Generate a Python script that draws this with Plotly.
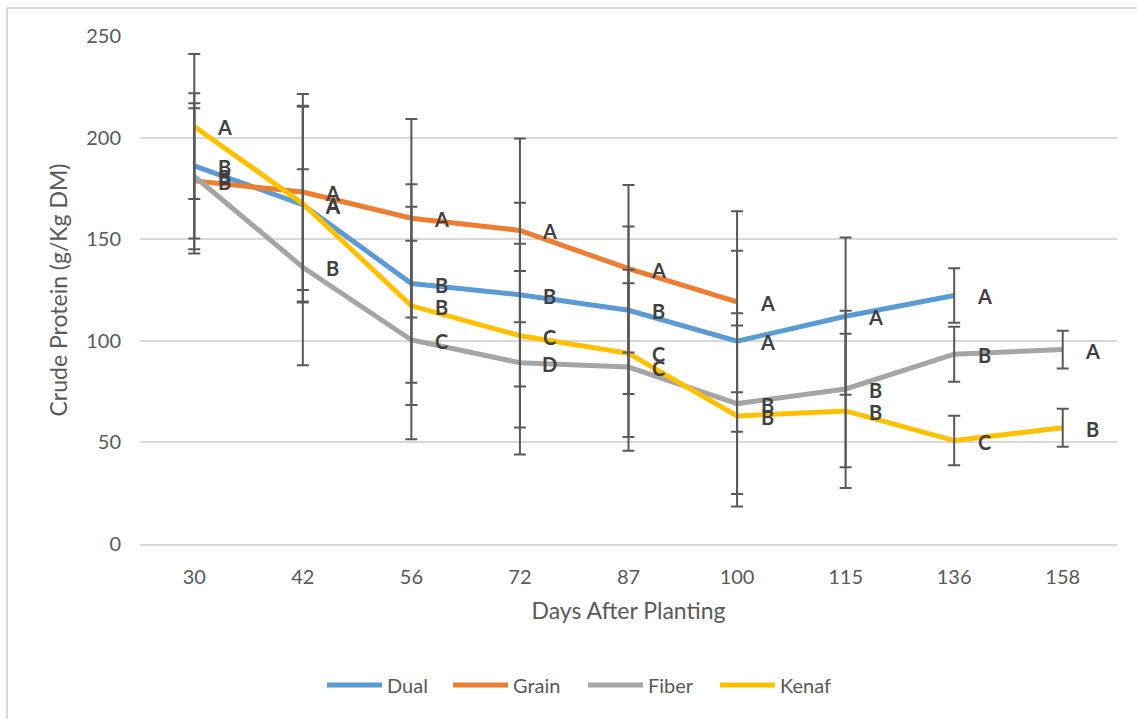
import plotly.graph_objects as go

# Sampling days (category axis)
days = ["30", "42", "56", "72", "87", "100", "115", "136", "158"]

# Crude protein (g/kg DM) by crop type
dual = [186.1, 167.0, 128.2, 122.7, 115.0, 99.8, 112.1, 122.3, None]
grain = [178.7, 173.2, 160.3, 154.3, 135.5, 119.2, None, None, None]
fiber = [181.0, 136.2, 100.4, 89.2, 87.1, 69.1, 76.3, 93.4, 95.7]
kenaf = [205.5, 167.5, 117.2, 102.5, 93.8, 63.0, 65.5, 50.9, 57.2]

# Error bar half-widths
dual_err = [35.7, 48.2, 48.8, 45.2, 41.2, 44.5, 38.7, 13.4, None]
grain_err = [35.7, 48.2, 48.8, 45.2, 41.2, 44.5, None, None, None]
fiber_err = [35.9, 48.2, 48.8, 45.2, 41.2, 44.5, 38.5, 13.5, 9.3]
kenaf_err = [35.7, 48.2, 48.8, 45.2, 41.2, 44.5, 38.0, 12.2, 9.3]

# Mean separation letters
dual_sig = ["B", "A", "B", "B", "B", "A", "A", "A", None]
grain_sig = ["B", "A", "A", "A", "A", "A", None, None, None]
fiber_sig = ["B", "B", "C", "D", "C", "B", "B", "B", "A"]
kenaf_sig = ["A", "A", "B", "C", "C", "B", "B", "C", "B"]

series = [
    ("Dual", dual, dual_err, dual_sig, "#5B9BD5"),
    ("Grain", grain, grain_err, grain_sig, "#ED7D31"),
    ("Fiber", fiber, fiber_err, fiber_sig, "#A5A5A5"),
    ("Kenaf", kenaf, kenaf_err, kenaf_sig, "#FFC000"),
]

FONT = "Lato"
TXT = "#595959"

fig = go.Figure()

for name, vals, err, sig, color in series:
    fig.add_trace(go.Scatter(
        x=days, y=vals, name=name, mode="lines",
        line=dict(color=color, width=5),
        showlegend=False, hoverinfo="skip",
    ))

# error bars on top of all lines
for name, vals, err, sig, color in series:
    fig.add_trace(go.Scatter(
        x=days, y=vals, mode="markers",
        marker=dict(size=1, color="rgba(0,0,0,0)"),
        error_y=dict(type="data", array=err, visible=True,
                     color="#595959", thickness=2, width=6),
        showlegend=False, hoverinfo="skip",
    ))

# letter labels to the right of each point (category index as x)
annotations = []
for name, vals, err, sig, color in series:
    for i, (v, s) in enumerate(zip(vals, sig)):
        if v is None or s is None:
            continue
        annotations.append(dict(
            x=i, y=v, xref="x", yref="y", text=s, showarrow=False,
            xshift=30, yshift=-1, xanchor="center", yanchor="middle",
            font=dict(family=FONT, size=20, color="#404040", weight="bold"),
        ))

# legend drawn as line samples with labels below the plot
L, R, T, B = 140, 1117, 36, 544
pw, ph = R - L, B - T


def px_x(p):
    return (p - L) / pw


def px_y(p):
    return (B - p) / ph


shapes = []
legend_x = [327, 453, 588, 720]
legend_y = 685
for (name, vals, err, sig, color), lx in zip(series, legend_x):
    shapes.append(dict(type="line", xref="paper", yref="paper",
                       x0=px_x(lx), x1=px_x(lx + 55),
                       y0=px_y(legend_y), y1=px_y(legend_y),
                       line=dict(color=color, width=5)))
    annotations.append(dict(xref="paper", yref="paper",
                            x=px_x(lx + 58), y=px_y(legend_y),
                            text=name, showarrow=False,
                            xanchor="left", yanchor="middle",
                            font=dict(family=FONT, size=20, color=TXT)))

# chart border
shapes.append(dict(type="rect", xref="paper", yref="paper", layer="below",
                   x0=px_x(7), x1=px_x(1160), y0=px_y(740), y1=px_y(8),
                   line=dict(color="#D9D9D9", width=2)))

fig.update_layout(
    width=1137, height=719,
    margin=dict(l=L, r=1137 - R, t=T, b=719 - B),
    paper_bgcolor="white", plot_bgcolor="white",
    font=dict(family=FONT, color=TXT),
    shapes=shapes, annotations=annotations,
    xaxis=dict(
        type="category", range=[-0.5, 8.5],
        showgrid=False, zeroline=False,
        showline=True, linecolor="#D9D9D9", linewidth=1.5,
        ticks="", ticklabelstandoff=14,
        tickfont=dict(family=FONT, size=20, color=TXT),
        title=dict(text="Days After Planting", standoff=16,
                   font=dict(family=FONT, size=23, color=TXT)),
    ),
    yaxis=dict(
        range=[0, 250], dtick=50,
        showgrid=True, gridcolor="#D9D9D9", gridwidth=1.5,
        zeroline=False, showline=False,
        ticks="", ticklabelstandoff=18,
        tickfont=dict(family=FONT, size=20, color=TXT),
        title=dict(text="Crude Protein (g/Kg DM)", standoff=12,
                   font=dict(family=FONT, size=23, color=TXT)),
    ),
)

fig.write_html("out.html")
